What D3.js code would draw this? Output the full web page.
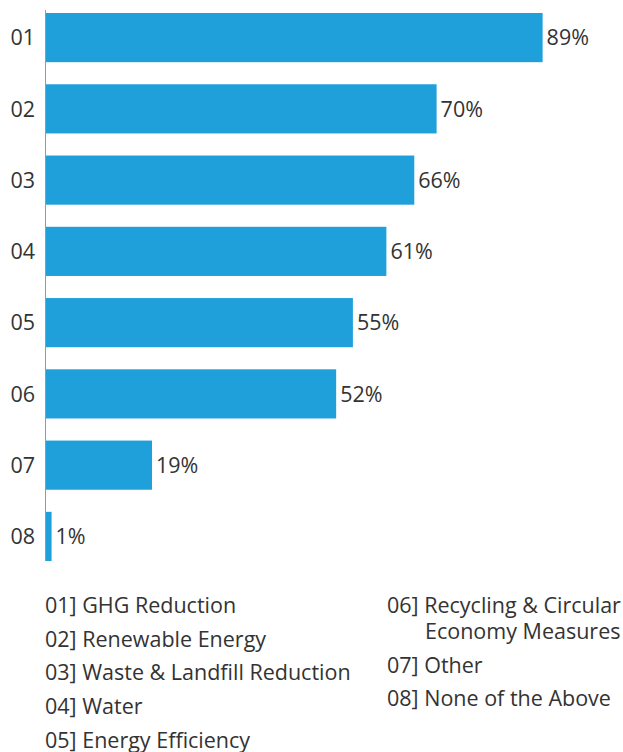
<!DOCTYPE html>
<html><head><meta charset="utf-8">
<script src="https://cdn.jsdelivr.net/npm/d3@7"></script>
<style>html,body{margin:0;padding:0;background:#fff}</style>
</head><body>
<script>
const categories = ["01","02","03","04","05","06","07","08"];
const values = [89,70,66,61,55,52,19,1];
const valueLabels = ["89%","70%","66%","61%","55%","52%","19%","1%"];
const legendLeft = ["01] GHG Reduction","02] Renewable Energy","03] Waste & Landfill Reduction","04] Water","05] Energy Efficiency"];
const legendRight = [["06] Recycling & Circular","Economy Measures"],["07] Other"],["08] None of the Above"]];

const W = 623, H = 752;
const font = "'Open Sans', sans-serif";
const textColor = "#333333";
const barColor = "#1fa0db";
const fs = 21.5;

const svg = d3.select("body").append("svg").attr("width", W).attr("height", H);

const y = d3.scaleBand().domain(categories).range([13, 561]).paddingInner(0.31).paddingOuter(0);
const x = d3.scaleLinear().domain([0, 100]).range([46, 604]);

svg.append("line").attr("x1", 45.5).attr("x2", 45.5).attr("y1", 10).attr("y2", 561)
  .attr("stroke", "#999").attr("stroke-width", 1);

svg.selectAll("rect.bar").data(values).enter().append("rect").attr("class","bar")
  .attr("x", x(0)).attr("y", (d,i) => y(categories[i]))
  .attr("width", d => x(d) - x(0)).attr("height", y.bandwidth())
  .attr("fill", barColor);

svg.selectAll("text.val").data(values).enter().append("text").attr("class","val")
  .attr("x", d => x(d) + 4).attr("y", (d,i) => y(categories[i]) + y.bandwidth()/2)
  .attr("dy", "0.36em").attr("font-family", font).attr("font-size", fs).attr("fill", textColor)
  .text((d,i) => valueLabels[i]);

const yAxis = d3.axisLeft(y).tickSize(0).tickPadding(11);
const ag = svg.append("g").attr("transform", "translate(46,0)").call(yAxis);
ag.select(".domain").remove();
ag.selectAll("text").attr("font-family", font).attr("font-size", fs).attr("fill", textColor).attr("dy","0.36em");

const lg = svg.append("g").attr("font-family", font).attr("font-size", fs).attr("fill", textColor);
lg.selectAll("text.l").data(legendLeft).enter().append("text").attr("class","l")
  .attr("x", 45).attr("y", (d,i) => 605 + i*33.8).attr("dy","0.36em").text(d => d);

let ry = 605;
const rStep = 33.8;
legendRight.forEach(lines => {
  lines.forEach((t, j) => {
    lg.append("text").attr("x", j === 0 ? 387 : 425).attr("y", ry).attr("dy","0.36em").text(t);
    ry += j < lines.length - 1 ? 26 : rStep;
  });
});
</script>
</body></html>
